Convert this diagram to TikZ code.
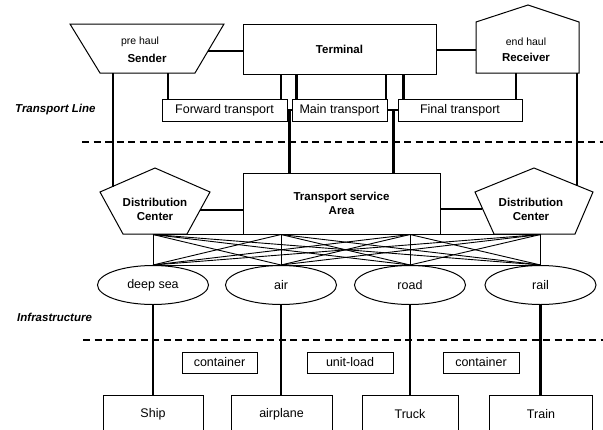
\documentclass[tikz,border=0pt]{standalone}
\usepackage{fontspec}
\setmainfont{Liberation Sans}
\usetikzlibrary{calc,shapes.geometric}
\begin{document}
\begin{tikzpicture}[x=1pt,y=-1pt,
  outline/.style={draw,line width=1pt,line join=miter},
  boxnode/.style={draw,line width=1pt,rectangle,inner sep=0pt},
  heavy/.style={line width=2.8pt},
  medium/.style={line width=2pt},
  thinline/.style={line width=0.9pt},
  sepline/.style={line width=1.8pt,dash pattern=on 7pt off 4.5pt},
  reg/.style={font=\fontsize{12.5}{14}\selectfont},
  bld/.style={font=\bfseries\fontsize{11.5}{13}\selectfont,inner sep=0pt},
  smalltxt/.style={font=\fontsize{10.5}{12}\selectfont,inner sep=0pt},
  lbl/.style={font=\bfseries\itshape\fontsize{11.5}{13}\selectfont,inner sep=0pt,anchor=west},
  oval/.style={draw,line width=1pt,ellipse,minimum width=111pt,minimum height=39pt,inner sep=0pt,font=\fontsize{12.5}{14}\selectfont},
]
\useasboundingbox (0,0) rectangle (603,429);
\clip (0,0) rectangle (603,429);

% ---------- top row ----------
\draw[outline] (70,24) -- (224,24) -- (195,73) -- (100,73) -- cycle;
\node[smalltxt] (prehaul) at (140,42) {pre haul};
\node[bld] (sender) at (147,58) {Sender};

\node[boxnode,minimum width=193pt,minimum height=50pt,bld] (term) at (339.5,49) {Terminal};

\draw[outline] (476,73) -- (476,22) -- (528,5) -- (579,22) -- (579,73) -- cycle;
\node[smalltxt] (endhaul) at (526,42) {end haul};
\node[bld] (receiver) at (526,57) {Receiver};

% transport boxes
\node[boxnode,reg,minimum width=125pt,minimum height=22pt] (fwd) at (224.5,110) {Forward transport};
\node[boxnode,reg,minimum width=95pt,minimum height=22pt] (main) at (339.5,110) {Main transport};
\node[boxnode,reg,minimum width=124pt,minimum height=22pt] (final) at (460,110) {Final transport};

\node[lbl] (tline) at (15,110) {Transport Line};

% ---------- middle row ----------
\draw[outline] (155,168) -- (210,192) -- (187,234) -- (123,234) -- (100,192) -- cycle;
\node[bld,align=center] (dcl) at (155,209) {Distribution\\[1pt]Center};

\node[boxnode,minimum width=197pt,minimum height=61pt,bld,align=center] (tsa) at (341.5,203.5) {Transport service\\[1pt]Area};

\draw[outline] (534,168) -- (593,192) -- (575,234) -- (494,234) -- (475,192) -- cycle;
\node[bld,align=center] (dcr) at (531,209) {Distribution\\[1pt]Center};

% ellipses
\node[oval] (deep) at (153,285) {deep sea};
\node[oval] (air) at (281,285) {air};
\node[oval] (road) at (410,285) {road};
\node[oval] (rail) at (540.5,285) {rail};

\node[lbl] (infra) at (17,317) {Infrastructure};

% ---------- bottom row ----------
\node[boxnode,reg,minimum width=75pt,minimum height=21pt] (cont1) at (219.5,362.5) {container};
\node[boxnode,reg,minimum width=86pt,minimum height=21pt] (unit) at (350,362.5) {unit-load};
\node[boxnode,reg,minimum width=76pt,minimum height=21pt] (cont2) at (481,362.5) {container};

\node[boxnode,reg,minimum width=100pt,minimum height=38pt] (ship) at (153,414) {Ship};
\node[boxnode,reg,minimum width=101pt,minimum height=38pt] (plane) at (281.5,414) {airplane};
\node[boxnode,reg,minimum width=96pt,minimum height=38pt] (truck) at (410,414) {Truck};
\node[boxnode,reg,minimum width=103pt,minimum height=38pt] (train) at (541,414) {Train};

% ---------- connectors ----------
\coordinate (sR) at (208,51);
\draw[heavy] (sR) -- (term.west |- sR);
\coordinate (rL) at (476,50);
\draw[heavy] (term.east |- rL) -- (rL);

\coordinate (sB1) at (113,73);
\coordinate (dclE) at (113,186.5);
\draw[heavy] (sB1) -- (dclE);
\coordinate (sB2) at (168,73);
\draw[medium] (sB2) -- (sB2 |- fwd.north);

\draw[medium] ([xshift=-7pt]fwd.north east) -- ([xshift=-7pt]fwd.north east |- term.south);
\draw[heavy] ([xshift=5pt]main.north west) -- ([xshift=5pt]main.north west |- term.south);
\draw[heavy] ([xshift=-1.5pt]main.north east) -- ([xshift=-1.5pt]main.north east |- term.south);
\draw[heavy] ([xshift=6pt]final.north west) -- ([xshift=6pt]final.north west |- term.south);

\coordinate (rB1) at (516,73);
\draw[medium] (rB1) -- (rB1 |- final.north);
\coordinate (rB2) at (577,73);
\coordinate (dcrE) at (577,186);
\draw[heavy] (rB2) -- (dcrE);

\draw[heavy] (fwd.east) -- (main.west);
\coordinate (j1) at ($(fwd.east)!0.5!(main.west)$);
\draw[heavy] (j1) -- (j1 |- tsa.north);
\draw[heavy] (main.east) -- (final.west);
\coordinate (j2) at ($(main.east)!0.6!(final.west)$);
\draw[heavy] (j2) -- (j2 |- tsa.north);

\coordinate (dclR) at (200,210);
\draw[heavy] (dclR) -- (tsa.west |- dclR);
\coordinate (dcrL) at (482,209);
\draw[heavy] (tsa.east |- dcrL) -- (dcrL);

% mesh
\foreach \a in {deep,air,road,rail}{
  \coordinate (\a T) at (\a.north |- tsa.south);
}
\draw[thinline] (deepT) -- (railT);
\draw[thinline] (deep.north) -- (rail.north);
\foreach \a in {deep,air,road,rail}{
  \foreach \b in {deep,air,road,rail}{
    \draw[thinline] (\a T) -- (\b.north);
  }
}

% to vehicles
\draw[heavy] (deep.south) -- (ship.north);
\draw[heavy] (air.south) -- (air.south |- plane.north);
\draw[heavy] (road.south) -- (truck.north);
\draw[heavy] (rail.south) -- (rail.south |- train.north);

% separators
\coordinate (d1a) at (82,142);
\coordinate (d1b) at (603,142);
\draw[sepline] (d1a) -- (d1b);
\coordinate (d2a) at (83,340);
\coordinate (d2b) at (603,340);
\draw[sepline] (d2a) -- (d2b);
\end{tikzpicture}
\end{document}
